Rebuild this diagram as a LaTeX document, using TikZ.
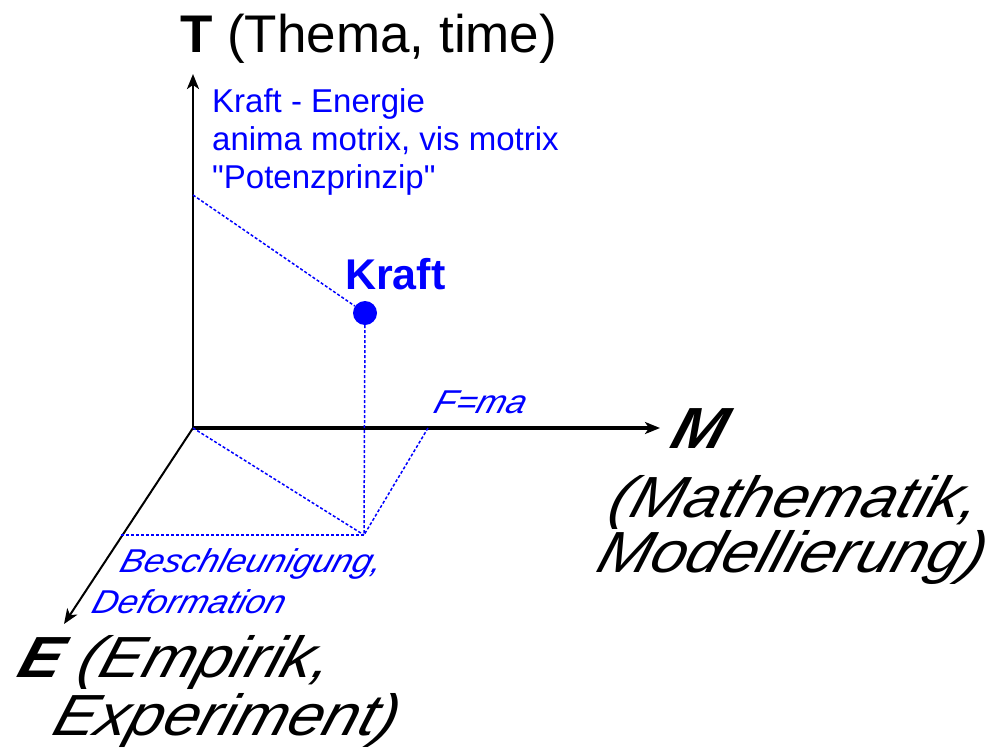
\documentclass[tikz,border=0pt]{standalone}
\usepackage{fontspec}
\setmainfont{Liberation Sans}[Ligatures=TeXOff]
\usetikzlibrary{arrows.meta}

\begin{document}
\begin{tikzpicture}[x=1pt,y=-1pt,
axis/.style={-{Stealth[length=15pt,width=12pt,inset=4pt]},line width=2.5pt},
proj/.style={blue,line width=1.5pt,dash pattern=on 3pt off 2pt},
lab/.style={inner sep=0pt,anchor=base west},
big/.style={font=\fontsize{58}{58}\selectfont\itshape,xslant=0.3,xscale=1.1},
bluetxt/.style={text=blue,font=\fontsize{33}{38}\selectfont},
blueit/.style={text=blue,font=\fontsize{33}{38}\selectfont\itshape,xslant=0.3,xscale=1.07},
dot/.style={circle,fill=blue,inner sep=0pt,minimum size=24pt}]
\useasboundingbox (0,0) rectangle (998,747);
% axes
\coordinate (O) at (193,428);
\coordinate (ttip) at (193,74);
\coordinate (mtip) at (660,428);
\coordinate (etip) at (64,624);
\draw[axis] (O) -- (ttip);
\draw[axis,line width=3.5pt] (O) -- (mtip);
\draw[axis,line width=2pt] (O) -- (etip);
% the point and its projections
\node[dot] (kraft) at (365,313) {};
\coordinate (tk) at (193,195);
\coordinate (mk) at (428,428);
\coordinate (ek) at (121,535);
\coordinate (P) at (364,535);
\draw[proj] (tk) -- (kraft);
\draw[proj] (kraft) -- (P);
\draw[proj] (O) -- (P);
\draw[proj] (mk) -- (P);
\draw[proj] (ek) -- (P);
% labels
\node[lab,font=\fontsize{53}{60}\selectfont] (tlab) at (180,52) {\textbf{T} (Thema, time)};
\node[bluetxt,inner sep=0pt,anchor=north west,align=left] (tnote) at (212,88)
  {Kraft - Energie\\anima motrix, vis motrix\\"Potenzprinzip"};
\node[lab,text=blue,font=\fontsize{43}{50}\selectfont\bfseries] (klab) at (345,289) {Kraft};
\node[lab,blueit] (fma) at (432,413) {F=ma};
\node[lab,blueit] (besch) at (118,572) {Beschleunigung,};
\node[lab,blueit] (deform) at (90,613) {Deformation};
\node[lab,big] (mlab) at (668,448) {\textbf{M}};
\node[lab,big] (mtext1) at (606,517) {(Mathematik,};
\node[lab,big] (mtext2) at (594,572) {Modellierung)};
\node[lab,big] (elab1) at (15,677) {\textbf{E} (Empirik,};
\node[lab,big] (elab2) at (50,735) {Experiment)};
\end{tikzpicture}
\end{document}
